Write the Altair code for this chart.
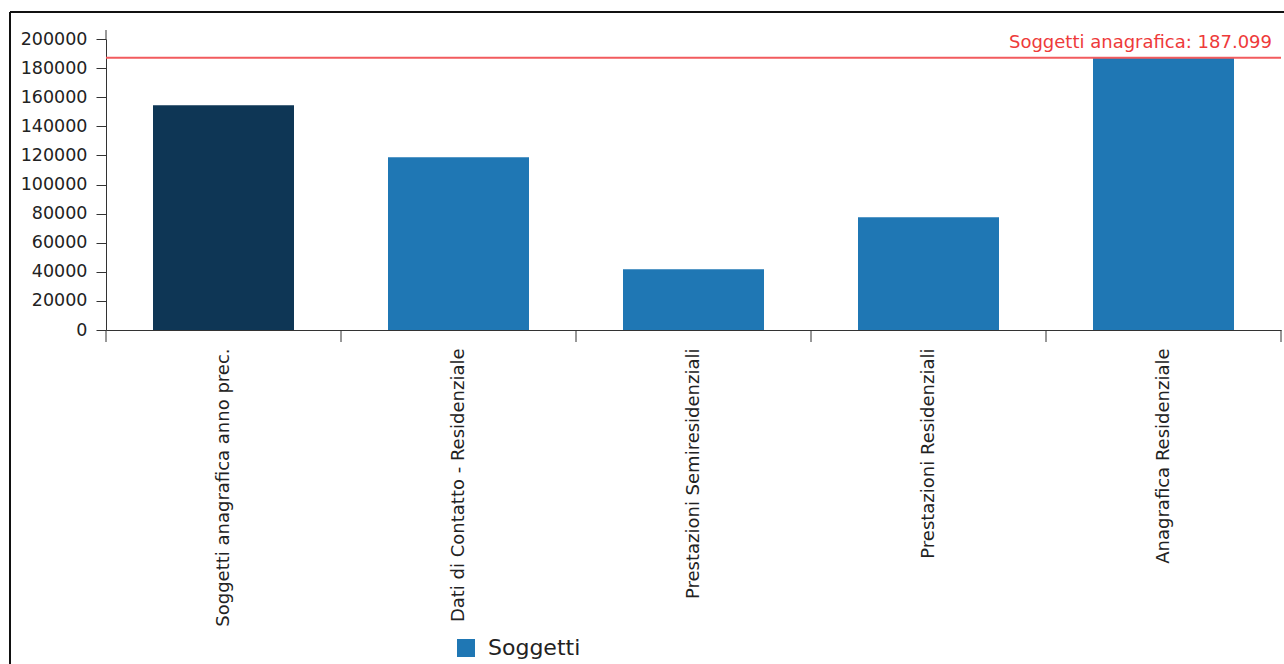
import altair as alt
import pandas as pd

# Categories and values (number of subjects per data source)
categorie = [
    "Soggetti anagrafica anno prec.",
    "Dati di Contatto - Residenziale",
    "Prestazioni Semiresidenziali",
    "Prestazioni Residenziali",
    "Anagrafica Residenziale",
]
soggetti = [154400, 118700, 41700, 77500, 187099]
serie = ["Soggetti"] * len(categorie)

# Reference line: total subjects in the registry
riferimento_valore = [187099]
riferimento_etichetta = ["Soggetti anagrafica: 187.099"]

y_ticks = [0, 20000, 40000, 60000, 80000, 100000, 120000, 140000, 160000, 180000, 200000]

df = pd.DataFrame({"categoria": categorie, "soggetti": soggetti, "serie": serie})
ref = pd.DataFrame({"valore": riferimento_valore, "etichetta": riferimento_etichetta})

W, H = 1175, 291
FONT = "DejaVu Sans"
AXIS_COLOR = "#333333"
TEXT_COLOR = "#222222"
TICK_LEN = 12

x_enc = alt.X(
    "categoria:N",
    sort=categorie,
    title=None,
    scale=alt.Scale(paddingInner=0.4, paddingOuter=0.2),
    axis=alt.Axis(
        labelAngle=-90,
        ticks=False,
        tickSize=0,
        labelPadding=TICK_LEN + 6,
        labelFont=FONT,
        labelFontSize=18,
        labelColor=TEXT_COLOR,
        labelLimit=500,
        domainColor=AXIS_COLOR,
        grid=False,
    ),
)

y_scale = alt.Scale(domain=[0, 200000], nice=False)
y_axis = alt.Axis(
    values=y_ticks,
    tickCount=len(y_ticks),
    format="d",
    tickSize=10,
    labelPadding=9,
    labelOverlap=False,
    labelFont=FONT,
    labelFontSize=17.5,
    labelColor=TEXT_COLOR,
    domainColor=AXIS_COLOR,
    tickColor=AXIS_COLOR,
    grid=False,
)


def y_of(field):
    return alt.Y(field, title=None, scale=y_scale, axis=y_axis)


bars = alt.Chart(df).mark_bar().encode(
    x=x_enc,
    y=y_of("soggetti:Q"),
    color=alt.condition(
        alt.datum.categoria == categorie[0],
        alt.value("#0e3655"),
        alt.Color(
            "serie:N",
            scale=alt.Scale(range=["#1f77b4"]),
            legend=alt.Legend(
                title=None,
                orient="none",
                legendX=349,
                legendY=598,
                symbolType="square",
                symbolSize=324,
                symbolStrokeWidth=0,
                labelFont=FONT,
                labelFontSize=22,
                labelColor=TEXT_COLOR,
                labelOffset=11,
                padding=0,
            ),
        ),
    ),
)

# category-axis ticks sit on the boundaries between the category slots
slot_scale = alt.Scale(paddingInner=0, paddingOuter=0)
slot_ticks_start = alt.Chart(df).mark_rule(color=AXIS_COLOR).encode(
    x=alt.X("categoria:N", sort=categorie, scale=slot_scale, axis=None, bandPosition=0),
    y=alt.value(H),
    y2=alt.value(H + TICK_LEN),
)
slot_tick_end = (
    alt.Chart(df)
    .transform_filter(alt.datum.categoria == categorie[-1])
    .mark_rule(color=AXIS_COLOR)
    .encode(
        x=alt.X("categoria:N", sort=categorie, scale=slot_scale, axis=None, bandPosition=1),
        y=alt.value(H),
        y2=alt.value(H + TICK_LEN),
    )
)
slot_ticks = alt.layer(slot_ticks_start, slot_tick_end)

rule = alt.Chart(ref).mark_rule(color="#f25b5e", strokeWidth=2).encode(y=y_of("valore:Q"))

label = alt.Chart(ref).mark_text(
    align="right", baseline="alphabetic", dy=-10, font=FONT, fontSize=18, color="#ee3a3a"
).encode(x=alt.value(W - 9), y=y_of("valore:Q"), text="etichetta:N")

# small extension of the value axis above the top tick
axis_cap = alt.Chart(ref).mark_rule(color=AXIS_COLOR).encode(
    x=alt.value(0), y=alt.value(-9), y2=alt.value(0)
)

# outer frame around the widget
frame_top = alt.Chart(ref).mark_rule(color="#111111", strokeWidth=2).encode(
    x=alt.value(-96), x2=alt.value(W + 20), y=alt.value(-27)
)
frame_left = alt.Chart(ref).mark_rule(color="#111111", strokeWidth=2).encode(
    x=alt.value(-96), y=alt.value(-27), y2=alt.value(H + 400)
)

chart = (
    alt.layer(bars, rule, label, axis_cap, frame_top, frame_left, slot_ticks)
    .resolve_scale(x="independent")
    .properties(
        width=W,
        height=H,
        autosize=alt.AutoSizeParams(type="none"),
        padding={"left": 106, "top": 39, "right": 3, "bottom": 334},
        background="white",
    )
    .configure_view(stroke=None)
)

chart.save("out.html", embed_options={"renderer": "svg", "actions": False})
